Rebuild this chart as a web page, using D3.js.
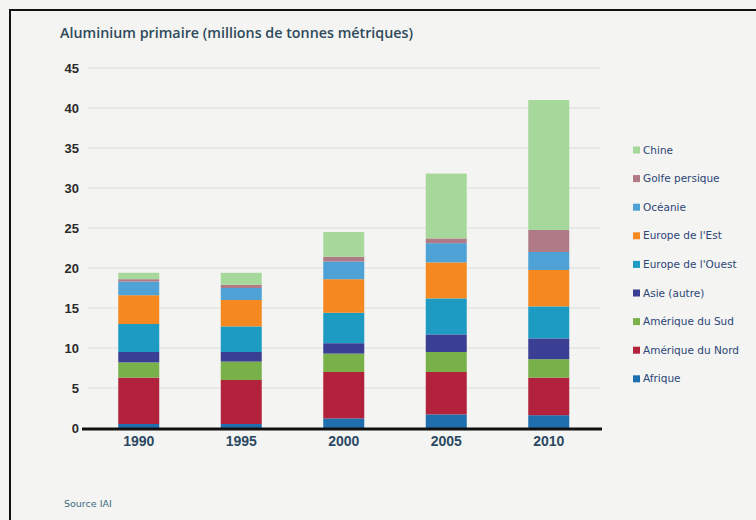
<!DOCTYPE html>
<html>
<head>
<meta charset="utf-8">
<script src="https://cdn.jsdelivr.net/npm/d3@7"></script>
<style>
  html, body { margin: 0; padding: 0; background: #f4f4f2; }
  svg { display: block; }
</style>
</head>
<body>
<svg id="chart" width="756" height="520"></svg>
<script>
// Primary aluminium production by region (million metric tonnes)
const years = ["1990", "1995", "2000", "2005", "2010"];
const regions = ["Afrique", "Amérique du Nord", "Amérique du Sud", "Asie (autre)",
  "Europe de l'Ouest", "Europe de l'Est", "Océanie", "Golfe persique", "Chine"];
const colors = ["#1f6fae", "#b3223c", "#78b14a", "#3a3f94",
  "#1d9bc3", "#f5891f", "#4ea2d6", "#b07b86", "#a6d89b"];

const afrique      = [0.5, 0.5, 1.2, 1.7, 1.6];
const ameriqueNord = [5.8, 5.5, 5.8, 5.3, 4.7];
const ameriqueSud  = [1.9, 2.3, 2.3, 2.5, 2.3];
const asieAutre    = [1.3, 1.2, 1.3, 2.2, 2.6];
const europeOuest  = [3.5, 3.2, 3.8, 4.5, 4.0];
const europeEst    = [3.6, 3.3, 4.2, 4.5, 4.55];
const oceanie      = [1.7, 1.5, 2.2, 2.4, 2.25];
const golfe        = [0.3, 0.4, 0.6, 0.6, 2.75];
const chine        = [0.8, 1.5, 3.1, 8.1, 16.25];

const yTicks = [0, 5, 10, 15, 20, 25, 30, 35, 40, 45];

const seriesValues = [afrique, ameriqueNord, ameriqueSud, asieAutre,
  europeOuest, europeEst, oceanie, golfe, chine];

// Row table for d3.stack
const table = years.map((yr, i) => {
  const row = { year: yr };
  regions.forEach((r, k) => { row[r] = seriesValues[k][i]; });
  return row;
});

const svg = d3.select("#chart");

// Frame
svg.append("path")
  .attr("d", "M10,520 L10,10 L756,10")
  .attr("fill", "none").attr("stroke", "#111").attr("stroke-width", 2);

const x = d3.scaleBand().domain(years).range([87.5, 600])
  .paddingInner(0.6).paddingOuter(0.3);
const y = d3.scaleLinear().domain([0, 45]).range([428, 68]);

// Gridlines
svg.append("g").selectAll("line").data(yTicks.filter(d => d > 0)).join("line")
  .attr("x1", 88).attr("x2", 600)
  .attr("y1", d => y(d)).attr("y2", d => y(d))
  .attr("stroke", "#dcdcda").attr("stroke-width", 1);

// Y axis labels
const yAxis = d3.axisLeft(y).tickValues(yTicks).tickSize(0).tickPadding(0);
const gy = svg.append("g").attr("transform", "translate(79,0)").call(yAxis);
gy.select(".domain").remove();
gy.selectAll("text")
  .attr("font-family", "Liberation Sans, Arial, sans-serif")
  .attr("font-size", 13).attr("font-weight", "bold").attr("fill", "#2a2a2a");

// Stacked bars
const stack = d3.stack().keys(regions);
const layers = stack(table);
svg.append("g").selectAll("g").data(layers).join("g")
  .attr("fill", (d, i) => colors[i])
  .selectAll("rect").data(d => d).join("rect")
  .attr("x", d => x(d.data.year))
  .attr("width", x.bandwidth())
  .attr("y", d => y(d[1]))
  .attr("height", d => y(d[0]) - y(d[1]));

// Baseline
svg.append("line")
  .attr("x1", 82).attr("x2", 602).attr("y1", 429).attr("y2", 429)
  .attr("stroke", "#111").attr("stroke-width", 3);

// X axis labels
const xAxis = d3.axisBottom(x).tickSize(0).tickPadding(0);
const gx = svg.append("g").attr("transform", "translate(0,436)").call(xAxis);
gx.select(".domain").remove();
gx.selectAll("text")
  .attr("dy", "0.71em")
  .attr("font-family", "Liberation Sans, Arial, sans-serif")
  .attr("font-size", 14).attr("font-weight", "bold").attr("fill", "#2c4963");

// Title
svg.append("text")
  .attr("x", 60).attr("y", 38)
  .attr("font-family", "Open Sans, sans-serif")
  .attr("font-size", 14.3).attr("font-weight", 600).attr("fill", "#2f4a5a")
  .text("Aluminium primaire (millions de tonnes métriques)");

// Legend (top to bottom: Chine ... Afrique)
const legendOrder = regions.map((r, i) => ({ name: r, color: colors[i] })).reverse();
const lg = svg.append("g").selectAll("g").data(legendOrder).join("g")
  .attr("transform", (d, i) => `translate(633,${150 + i * 28.6})`);
lg.append("rect").attr("x", 0).attr("y", -3.5).attr("width", 7).attr("height", 7)
  .attr("fill", d => d.color);
lg.append("text").attr("x", 10).attr("y", 0).attr("dy", "0.35em")
  .attr("font-family", "DejaVu Sans, sans-serif")
  .attr("font-size", 10.5).attr("fill", "#2c4677")
  .text(d => d.name);

// Source
svg.append("text")
  .attr("x", 64).attr("y", 507)
  .attr("font-family", "DejaVu Sans, sans-serif")
  .attr("font-size", 9.5).attr("fill", "#3d6a80")
  .text("Source IAI");
</script>
</body>
</html>
